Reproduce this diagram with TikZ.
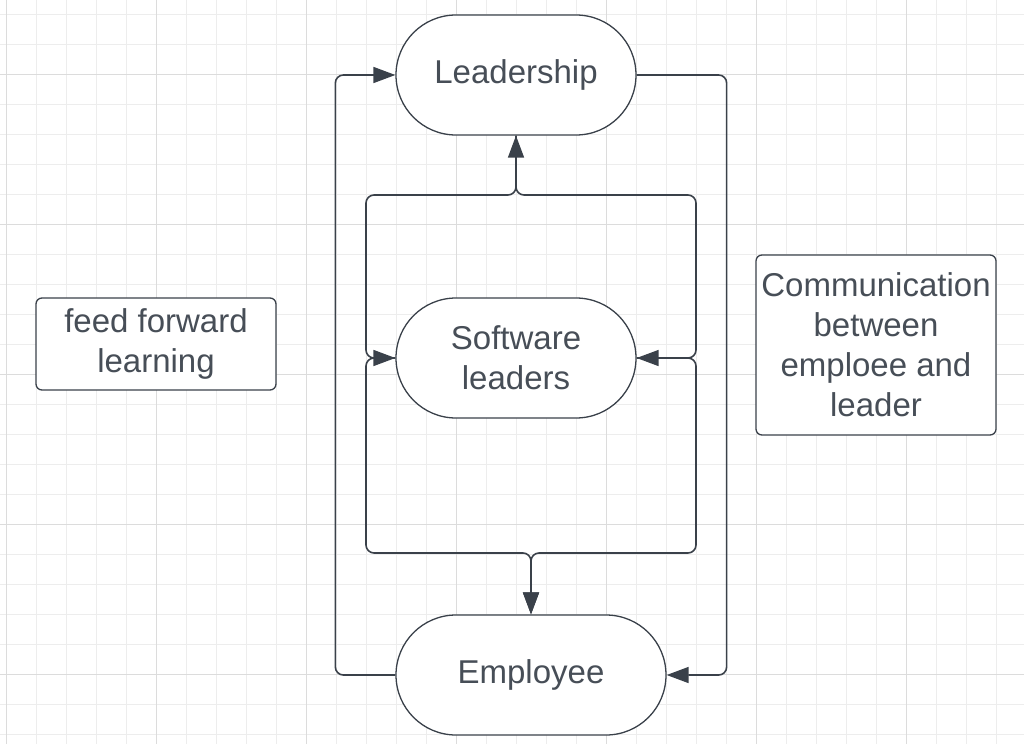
\documentclass[tikz,border=0pt]{standalone}
\usepackage{fontspec}
\setmainfont{Liberation Sans}
\usetikzlibrary{arrows.meta, positioning}
\definecolor{ink}{HTML}{3A414A}
\definecolor{txt}{HTML}{474E57}
\definecolor{gridminor}{HTML}{EDEDED}
\definecolor{gridmajor}{HTML}{DCDCDC}

\begin{document}
\begin{tikzpicture}[
  x=1pt, y=-1pt,
  >={Triangle[length=22pt, width=16pt]},
  every node/.style={font=\fontsize{33}{40}\selectfont, text=txt},
  pill/.style={draw=ink, line width=1.3pt, fill=white, rounded corners=60pt,
               minimum width=240pt, minimum height=120pt, align=center, inner sep=0pt},
  note/.style={draw=ink, line width=1.3pt, fill=white, rounded corners=6pt,
               minimum width=240pt, align=center, inner sep=0pt},
  link/.style={draw=ink, line width=1.6pt, rounded corners=8pt}
]
  \useasboundingbox (0,0) rectangle (1024,744);
  % background grid
  \foreach \gx in {6,36,...,1020} \draw[gridminor, line width=1pt] (\gx,0) -- (\gx,744);
  \foreach \gy in {14,44,...,740} \draw[gridminor, line width=1pt] (0,\gy) -- (1024,\gy);
  \foreach \gx in {6,156,...,1020} \draw[gridmajor, line width=1pt] (\gx,0) -- (\gx,744);
  \foreach \gy in {74,224,...,740} \draw[gridmajor, line width=1pt] (0,\gy) -- (1024,\gy);

  \node[pill] (lead) at (516,75)  {Leadership};
  \node[pill] (soft) at (516,358) {Software\\leaders};
  \node[pill, minimum width=270pt] (emp) at (531,675) {Employee};
  \node[note, minimum height=92pt]  (ffl)  at (156,344) {feed forward\\learning};
  \node[note, minimum height=180pt] (comm) at (876,345) {Communication\\between\\emploee and\\leader};

  \coordinate (tl) at (366,195);
  \coordinate (tr) at (696,195);
  \coordinate (bl) at (366,553);
  \coordinate (br) at (696,553);

  \draw[link, ->] (emp.west) -| ([xshift=-60pt]lead.west) -- (lead.west);
  \draw[link, ->] (lead.east) -| ([xshift=60pt]emp.east) -- (emp.east);
  \draw[link, <->] (lead.south) |- (tl) |- (soft.west);
  \draw[link, ->] (lead.south) |- (tr) |- (soft.east);
  \draw[link, ->] (soft.west) -| (bl) -| (emp.north);
  \draw[link, ->] (soft.east) -| (br) -| (emp.north);
\end{tikzpicture}
\end{document}
